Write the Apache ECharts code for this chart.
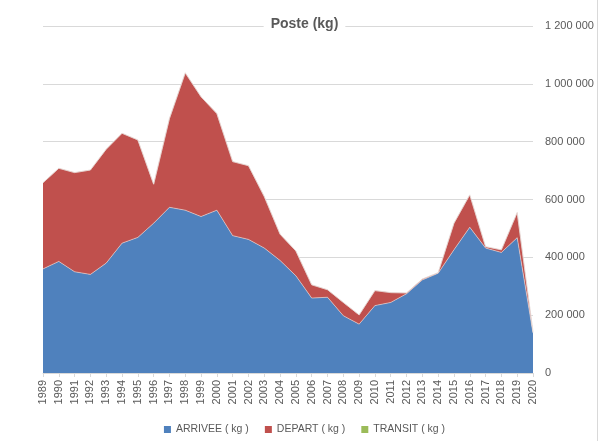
<!DOCTYPE html>
<html>
<head>
<meta charset="utf-8">
<script src="https://cdn.jsdelivr.net/npm/echarts@6/dist/echarts.min.js"></script>
<style>
  html, body { margin: 0; padding: 0; background: #fff; }
  #chart { width: 609px; height: 441px; }
</style>
</head>
<body>
<div id="chart"></div>
<script>
const years = [
  "1989", "1990", "1991", "1992", "1993", "1994", "1995", "1996", "1997", "1998",
  "1999", "2000", "2001", "2002", "2003", "2004", "2005", "2006", "2007", "2008",
  "2009", "2010", "2011", "2012", "2013", "2014", "2015", "2016", "2017", "2018",
  "2019", "2020"
];

// kg
const arrivee = [
  360000, 386000, 350000, 341000, 380000, 449000, 469000, 518000, 573000, 563000,
  541000, 563000, 475000, 462000, 432000, 389000, 336000, 259000, 262000, 198000,
  169000, 233000, 244000, 274000, 322000, 345000, 426000, 504000, 432000, 417000,
  468000, 138000
];
const depart = [
  298000, 322000, 343000, 361000, 394000, 380000, 337000, 135000, 307000, 475000,
  414000, 334000, 256000, 255000, 178000, 91000, 86000, 46000, 26000, 46000,
  32000, 52000, 34000, 3000, 3000, 2000, 92000, 112000, 5000, 9000,
  87000, 5000
];
const transit = [
  0, 0, 0, 0, 0, 0, 0, 0, 0, 0,
  0, 0, 0, 0, 0, 0, 0, 0, 0, 0,
  0, 0, 0, 0, 0, 0, 0, 0, 0, 0,
  0, 0
];

const seriesNames = ["ARRIVEE ( kg )", "DEPART ( kg )", "TRANSIT ( kg )"];
const seriesColors = ["#4f81bd", "#c0504d", "#9bbb59"];

function spaced(value) {
  return String(value).replace(/\B(?=(\d{3})+(?!\d))/g, " ");
}

function areaSeries(name, data, color) {
  return {
    name,
    type: "line",
    stack: "total",
    data,
    symbol: "none",
    smooth: false,
    lineStyle: { width: 0.6, color: "#e8dcd8" },
    areaStyle: { color, opacity: 1 },
    itemStyle: { color },
  };
}

const chart = echarts.init(document.getElementById("chart"));
chart.setOption({
  animation: false,
  textStyle: { fontFamily: "Liberation Sans, sans-serif" },
  title: {
    text: "Poste (kg)",
    left: "center",
    top: 16,
    padding: [1, 7],
    backgroundColor: "#fff",
    textStyle: { fontSize: 14, fontWeight: "bold", color: "#595959" },
  },
  grid: { left: 43, right: 76, top: 26, bottom: 68 },
  legend: {
    top: 419,
    left: "center",
    icon: "rect",
    itemWidth: 7,
    itemHeight: 7,
    itemGap: 16,
    textStyle: { fontSize: 10.5, color: "#595959" },
    data: seriesNames,
  },
  xAxis: {
    type: "category",
    data: years,
    boundaryGap: false,
    axisLine: { lineStyle: { color: "#d9d9d9" } },
    axisTick: { show: true, alignWithLabel: true, length: 4, lineStyle: { color: "#d9d9d9" } },
    axisLabel: { rotate: 90, fontSize: 11, color: "#595959", margin: 7, interval: 0 },
  },
  yAxis: {
    type: "value",
    position: "right",
    min: 0,
    max: 1200000,
    interval: 200000,
    axisLine: { show: false },
    axisTick: { show: false },
    splitLine: { lineStyle: { color: "#d9d9d9", width: 1 } },
    axisLabel: { fontSize: 11, color: "#595959", margin: 12, formatter: spaced },
  },
  graphic: [{
    type: "line",
    shape: { x1: 597.5, y1: 0, x2: 597.5, y2: 441 },
    style: { stroke: "#d9d9d9", lineWidth: 1 },
  }],
  series: [
    areaSeries(seriesNames[0], arrivee, seriesColors[0]),
    areaSeries(seriesNames[1], depart, seriesColors[1]),
    areaSeries(seriesNames[2], transit, seriesColors[2]),
  ],
});
</script>
</body>
</html>
